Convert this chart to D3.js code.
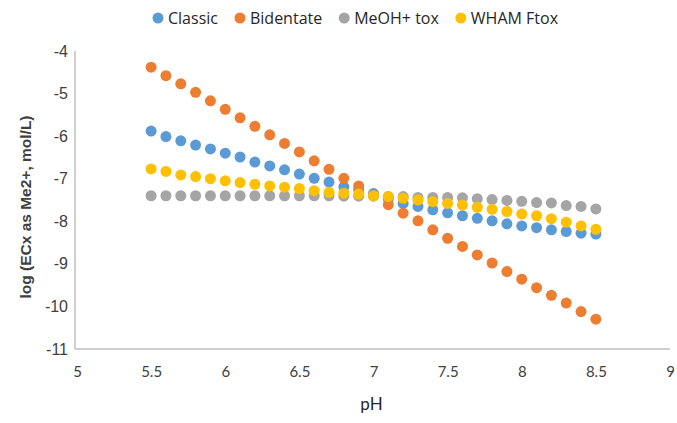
<!DOCTYPE html>
<html>
<head>
<meta charset="utf-8">
<script src="https://cdn.jsdelivr.net/npm/d3@7"></script>
<style>
  body { margin: 0; background: #fff; }
  svg { display: block; }
</style>
</head>
<body>
<svg id="chart"></svg>
<script>
// pH values, 5.5 to 8.5
const ph = [5.5, 5.6, 5.7, 5.8, 5.9, 6.0, 6.1, 6.2, 6.3, 6.4, 6.5, 6.6, 6.7, 6.8, 6.9, 7.0,
            7.1, 7.2, 7.3, 7.4, 7.5, 7.6, 7.7, 7.8, 7.9, 8.0, 8.1, 8.2, 8.3, 8.4, 8.5];

const classic = [-5.88, -6.01, -6.11, -6.21, -6.30, -6.40, -6.49, -6.61, -6.70, -6.79, -6.89,
                 -6.99, -7.08, -7.19, -7.26, -7.35, -7.47, -7.58, -7.65, -7.73, -7.80, -7.87,
                 -7.93, -7.99, -8.06, -8.11, -8.15, -8.20, -8.24, -8.28, -8.30];

const bidentate = [-4.38, -4.58, -4.77, -4.97, -5.17, -5.37, -5.57, -5.77, -5.97, -6.17, -6.37,
                   -6.58, -6.78, -6.99, -7.17, -7.39, -7.61, -7.81, -7.99, -8.20, -8.40, -8.59,
                   -8.79, -8.98, -9.18, -9.36, -9.56, -9.74, -9.92, -10.12, -10.30];

const meohTox = [-7.40, -7.40, -7.40, -7.40, -7.40, -7.40, -7.40, -7.40, -7.40, -7.40, -7.40,
                 -7.40, -7.40, -7.41, -7.41, -7.41, -7.42, -7.42, -7.44, -7.44, -7.44, -7.45,
                 -7.47, -7.49, -7.51, -7.53, -7.56, -7.57, -7.63, -7.65, -7.71];

const whamFtox = [-6.77, -6.83, -6.91, -6.95, -7.00, -7.05, -7.09, -7.13, -7.17, -7.20, -7.23,
                  -7.28, -7.32, -7.34, -7.36, -7.40, -7.42, -7.46, -7.50, -7.54, -7.58, -7.62,
                  -7.67, -7.72, -7.77, -7.83, -7.87, -7.94, -8.02, -8.11, -8.19];

const seriesNames = ['Classic', 'Bidentate', 'MeOH+ tox', 'WHAM Ftox'];
const seriesColors = ['#5B9BD5', '#ED7D31', '#A5A5A5', '#FFC000'];
const seriesValues = [classic, bidentate, meohTox, whamFtox];

const xTicks = [5, 5.5, 6, 6.5, 7, 7.5, 8, 8.5, 9];
const yTicks = [-4, -5, -6, -7, -8, -9, -10, -11];

const width = 677, height = 423;
const margin = {top: 51, right: 7, bottom: 74, left: 77};
const innerW = width - margin.left - margin.right;
const innerH = height - margin.top - margin.bottom;

const svg = d3.select('#chart')
    .attr('width', width)
    .attr('height', height);

const chart = svg.append('g')
    .attr('transform', `translate(${margin.left}, ${margin.top})`);

const xscale = d3.scaleLinear().domain([5, 9]).range([0, innerW]);
const yscale = d3.scaleLinear().domain([-11, -4]).range([innerH, 0]);

const xaxis = d3.axisBottom(xscale)
    .tickValues(xTicks)
    .tickSize(0)
    .tickPadding(17)
    .tickFormat(d => String(d));

const yaxis = d3.axisLeft(yscale)
    .tickValues(yTicks)
    .tickSize(0)
    .tickPadding(9)
    .tickFormat(d => String(d));

const xg = chart.append('g')
    .attr('transform', `translate(0, ${innerH})`)
    .call(xaxis);
xg.select('.domain').attr('stroke', '#bfbfbf').attr('stroke-width', 1.5)
    .attr('d', `M-2,0H${innerW}`);
xg.selectAll('text')
    .style('font-family', 'Lato, sans-serif')
    .style('font-size', '15px')
    .attr('fill', '#404040');

const yg = chart.append('g').call(yaxis);
yg.select('.domain').attr('stroke', '#bfbfbf').attr('stroke-width', 1.5)
    .attr('d', `M-2,0V${innerH}`);
yg.selectAll('text')
    .style('font-family', '"Liberation Sans", Arial, sans-serif')
    .style('font-size', '16px')
    .attr('fill', '#404040');

// points
seriesValues.forEach((vals, i) => {
    chart.append('g')
        .selectAll('circle')
        .data(ph.map((p, j) => ({x: p, y: vals[j]})))
        .join('circle')
        .attr('cx', d => xscale(d.x))
        .attr('cy', d => yscale(d.y))
        .attr('r', 5.5)
        .attr('fill', seriesColors[i]);
});

// axis labels
svg.append('text')
    .attr('x', margin.left + xscale(7) - 2)
    .attr('y', 410)
    .attr('text-anchor', 'middle')
    .style('font-family', 'Lato, sans-serif')
    .style('font-size', '17px')
    .attr('fill', '#262626')
    .text('pH');

svg.append('text')
    .attr('transform', 'rotate(-90)')
    .attr('x', -207)
    .attr('y', 31)
    .attr('text-anchor', 'middle')
    .style('font-family', '"Liberation Sans", Arial, sans-serif')
    .style('font-size', '15.5px')
    .style('font-weight', 'bold')
    .attr('fill', '#404040')
    .text('log (ECx as Me2+, mol/L)');

// legend
const legend = svg.append('g').attr('transform', 'translate(158, 18)');
let lx = 0;
seriesNames.forEach((name, i) => {
    const item = legend.append('g').attr('transform', `translate(${lx}, 0)`);
    item.append('circle').attr('r', 5.5).attr('fill', seriesColors[i]);
    const t = item.append('text')
        .attr('x', 10)
        .attr('dy', '0.35em')
        .style('font-family', '"Open Sans", sans-serif')
        .style('font-size', '16px')
        .attr('fill', '#262626')
        .text(name);
    lx += 10 + t.node().getComputedTextLength() + 22;
});
</script>
</body>
</html>
